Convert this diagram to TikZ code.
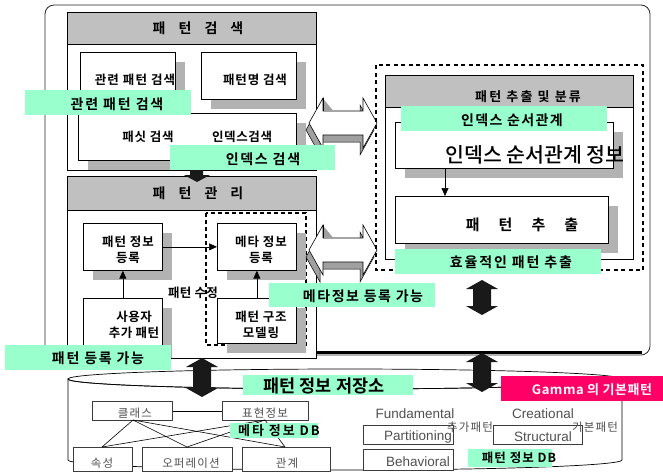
\documentclass[tikz,border=0pt]{standalone}
\usepackage{fontspec}
\setmainfont{Noto Sans CJK KR}[BoldFont={Noto Sans CJK KR Bold}]
\newfontfamily\krmed{Noto Sans CJK KR Medium}
\newfontfamily\lat{Liberation Sans}
\usetikzlibrary{arrows.meta}
\definecolor{mint}{RGB}{153,255,204}
\definecolor{hdr}{RGB}{192,192,192}
\definecolor{shd}{RGB}{178,178,178}
\definecolor{pinkc}{RGB}{255,0,102}
\definecolor{dbtxt}{RGB}{80,80,80}
\definecolor{dbline}{RGB}{60,60,60}
\newcommand\fs[1]{\fontsize{#1}{#1}\selectfont}
\newcommand\ls[1]{\addfontfeature{LetterSpace=#1}}
% shadowed box: name, x1, y1, x2, y2
\newcommand\ShBox[5]{%
  \fill[shd] (#2+10,#3+10) rectangle (#4+10,#5+10);
  \node[box, minimum width=#4-#2, minimum height=#5-#3] (#1) at (#2,#3) {};}
\newcommand\PlainBox[5]{%
  \node[box, minimum width=#4-#2, minimum height=#5-#3] (#1) at (#2,#3) {};}
\newcommand\HdBox[5]{%
  \node[box, fill=hdr, minimum width=#4-#2, minimum height=#5-#3] (#1) at (#2,#3) {};}
\newcommand\GreenBox[5]{%
  \node[gbox, minimum width=#4-#2, minimum height=#5-#3] (#1) at (#2,#3) {};}
% black vertical double arrow: cx, ytop, ybot
\newcommand\VArrow[3]{%
  \fill[black!90] (#1,#2) -- (#1+16,#2+9) -- (#1+9,#2+9) -- (#1+9,#3-9) -- (#1+16,#3-9)
    -- (#1,#3) -- (#1-16,#3-9) -- (#1-9,#3-9) -- (#1-9,#2+9) -- (#1-16,#2+9) -- cycle;}
% hollow 3D horizontal double arrow: x of left tip, y of tips
\newcommand\HArrow[2]{%
  \begin{scope}[shift={(#1,#2)}]
    \filldraw[fill=shd!90!black, draw=black, line width=0.5pt, shift={(-3,7)}]
      (0,0) -- (14,-25) -- (14,-12) -- (54,-12) -- (54,-25) -- (68,0)
      -- (54,25) -- (54,12) -- (14,12) -- (14,25) -- cycle;
    \filldraw[fill=white, draw=black, line width=0.6pt]
      (0,0) -- (14,-25) -- (14,-12) -- (54,-12) -- (54,-25) -- (68,0)
      -- (54,25) -- (54,12) -- (14,12) -- (14,25) -- cycle;
    \fill[shd!90!black] (14.4,-24) -- (24,-12.4) -- (14.4,-12.4) -- cycle;
    \draw[line width=0.6pt] (14,-25) -- (14,-12);
  \end{scope}}
\begin{document}
\begin{tikzpicture}[x=1pt,y=-1pt,
  box/.style={draw=black, fill=white, line width=0.7pt, inner sep=0pt, anchor=north west},
  gbox/.style={fill=mint, inner sep=0pt, anchor=north west},
  dbbox/.style={draw=dbline, fill=white, line width=0.6pt, inner sep=0pt, anchor=north west},
  txt/.style={inner sep=0pt, anchor=center},
  btxt/.style={txt, font=\fs{12.5}\bfseries},
  gtxt/.style={txt, font=\fs{13.5}\bfseries},
  dtxt/.style={txt, text=dbtxt, font=\fs{11.5}\ls{10}},
  ltxt/.style={txt, text=dbtxt, font=\lat\fs{13.5}},
  conn/.style={line width=0.6pt, -{Triangle[length=8pt,width=7pt]}},
  dbconn/.style={line width=0.6pt, draw=black}
]
\useasboundingbox (0,0) rectangle (663,472);
\fill[white] (0,0) rectangle (663,472);

% outer frame
\draw[rounded corners=9pt, line width=0.8pt, draw=black!85] (45,5) rectangle (650,355);
\draw[line width=3pt] (45,352) -- (642,352);

% ===== pattern search =====
\PlainBox{srch}{67}{12}{316}{170}
\HdBox{srchH}{67}{12}{316}{44}
\node[txt, font=\fs{14}\bfseries] (srchT) at (198,28) {패\hspace{13pt}턴\hspace{13pt}검\hspace{13pt}색};
\ShBox{relB}{80}{52}{175}{104}
\node[btxt, font=\fs{12.5}\bfseries\ls{9}] (relT) at (135,80) {관련 패턴 검색};
\ShBox{nameB}{201}{52}{296}{99}
\node[btxt, font=\fs{12.5}\bfseries\ls{7}] (nameT) at (255,80) {패턴명 검색};
\ShBox{facB}{78}{113}{296}{160}
\node[btxt, font=\fs{12.5}\bfseries\ls{7}] (facT) at (148,137) {패싯 검색};
\node[btxt, font=\fs{12.5}\bfseries\ls{5}] (idxT) at (242,137) {인덱스검색};

% ===== pattern management =====
\PlainBox{mng}{67}{176}{316}{358}
\HdBox{mngH}{67}{176}{316}{210}
\node[txt, font=\fs{14}\bfseries] (mngT) at (198,193) {패\hspace{13pt}턴\hspace{13pt}관\hspace{13pt}리};
\draw[line width=2pt, dash pattern=on 4pt off 3pt] (206,213) rectangle (306,345);
\ShBox{pinfo}{83}{223}{162}{270}
\node[btxt, align=center, font=\fs{12.5}\bfseries\ls{8}] (pinfoT) at (128,250) {패턴 정보\\[3pt]등록};
\ShBox{meta}{217}{223}{296}{270}
\node[btxt, align=center, font=\fs{12.5}\bfseries\ls{8}] (metaT) at (261,250) {메타 정보\\[3pt]등록};
\ShBox{user}{83}{298}{162}{348}
\node[btxt, align=center, font=\fs{12.5}\bfseries\ls{4}] (userT) at (134,325) {사용자\\[3pt]추가 패턴};
\ShBox{model}{217}{298}{296}{343}
\node[btxt, align=center, font=\fs{12.5}\bfseries\ls{7}] (modelT) at (261,325) {패턴 구조\\[3pt]모델링};
\node[btxt, font=\fs{12.5}\bfseries\ls{2}] (fixT) at (193,293) {패턴 수정};
\draw[conn] (pinfo.east) -- (meta.west);
\draw[conn] (user.north) -- (pinfo.south);
\draw[conn] (model.north) -- (meta.south);
% down arrow search -> management
\fill[black!90] (190,168) -- (203,168) -- (203,175) -- (210,175) -- (197,182) -- (184,175) -- (190,175) -- cycle;

% ===== hollow arrows =====
\HArrow{309}{123}
\HArrow{309}{250}

% ===== extraction =====
\draw[line width=2.2pt, dash pattern=on 4pt off 3.5pt] (376,65) rectangle (643,270);
\PlainBox{ext}{385}{75}{633}{259}
\HdBox{extH}{385}{75}{633}{107}
\node[txt, font=\fs{13}\bfseries\ls{17}] (extT) at (528,97) {패턴 추출 및 분류};
\ShBox{idxinfo}{395}{122}{613}{168}
\node[txt, font=\krmed\fs{20.5}] (idxinfoT) at (535,155) {인덱스 순서관계 정보};
\ShBox{extract}{395}{196}{608}{243}
\node[txt, font=\fs{15}\bfseries] (extractT) at (522,225) {패\hspace{19pt}턴\hspace{19pt}추\hspace{19pt}출};
\draw[conn] ([xshift=50pt]idxinfo.south west) -- ([xshift=50pt]extract.north west);

% ===== repository cylinder =====
\filldraw[fill=white, draw=black, line width=0.7pt] (68,379) -- (68,460)
  arc[start angle=180, end angle=0, x radius=277, y radius=10] -- (622,379)
  arc[start angle=0, end angle=180, x radius=277, y radius=10] -- cycle;
\draw[line width=0.7pt] (345,379) ellipse [x radius=277, y radius=10];

% meta DB
\node[dbbox, minimum width=80, minimum height=19] (cls) at (92,401) {};
\node[dtxt] (clsT) at (135,413) {클래스};
\node[dbbox, minimum width=86, minimum height=19] (rep) at (222,401) {};
\node[dtxt] (repT) at (265,413) {표현정보};
\node[dbbox, minimum width=59, minimum height=24] (attr) at (73,447) {};
\node[dtxt] (attrT) at (102,463) {속성};
\node[dbbox, minimum width=90, minimum height=24] (oper) at (142,447) {};
\node[dtxt] (operT) at (191,463) {오퍼레이션};
\node[dbbox, minimum width=88, minimum height=24] (rel) at (242,447) {};
\node[dtxt] (relT2) at (287,463) {관계};
\draw[dbconn] (cls.east) -- (rep.west);
\coordinate (clsB) at (133,420);
\coordinate (repB) at (265,420);
\draw[dbconn] (clsB) -- ([xshift=29pt]attr.north west);
\draw[dbconn] (clsB) -- ([xshift=45pt]oper.north west);
\draw[dbconn] (clsB) -- ([xshift=43pt]rel.north west);
\draw[dbconn] (repB) -- ([xshift=29pt]attr.north west);
\draw[dbconn] (repB) -- ([xshift=45pt]oper.north west);
\draw[dbconn] (repB) -- ([xshift=43pt]rel.north west);

% pattern DB
\node[ltxt] (fundT) at (415,414) {Fundamental};
\node[ltxt] (creaT) at (543,414) {Creational};
\node[dbbox, minimum width=90, minimum height=19] (part) at (363,425) {};
\node[ltxt] (partT) at (418,437) {Partitioning};
\node[dbbox, minimum width=89, minimum height=19] (stru) at (493,425) {};
\node[ltxt] (struT) at (543,437) {Structural};
\node[dbbox, minimum width=90, minimum height=21] (beh) at (363,449) {};
\node[ltxt] (behT) at (418,462) {Behavioral};
\node[dtxt] (addT) at (470,427) {추가패턴};
\node[dtxt] (baseT) at (595,427) {기본패턴};

% ===== green labels =====
\GreenBox{g1}{25}{90}{191}{115}
\node[gtxt, font=\fs{14}\bfseries\ls{13}] (g1T) at (117,104) {관련 패턴 검색};
\GreenBox{g2}{170}{145}{335}{170}
\node[gtxt, font=\fs{14}\bfseries\ls{12}] (g2T) at (263,159) {인덱스 검색};
\GreenBox{g3}{401}{106}{607}{131}
\node[gtxt, font=\fs{14}\bfseries\ls{10}] (g3T) at (512,120) {인덱스 순서관계};
\GreenBox{g4}{395}{249}{601}{274}
\node[gtxt, font=\fs{14}\bfseries\ls{13}] (g4T) at (511,262) {효율적인 패턴 추출};
\GreenBox{g5}{269}{283}{435}{307}
\node[gtxt, font=\fs{14}\bfseries\ls{11}] (g5T) at (363,296) {메타정보 등록 가능};
\GreenBox{g6}{5}{345}{171}{370}
\node[gtxt, font=\fs{14}\bfseries\ls{12}] (g6T) at (98,358) {패턴 등록 가능};
\GreenBox{g7}{243}{375}{413}{395}
\node[gtxt, font=\fs{17.5}\bfseries] (g7T) at (324,386) {패턴 정보 저장소};
\GreenBox{g8}{230}{423}{318}{438}
\node[gtxt, font=\fs{13}\bfseries\ls{15}] (g8T) at (279,431) {메타 정보 DB};
\GreenBox{g9}{468}{449}{552}{467}
\node[gtxt, font=\fs{12.5}\bfseries\ls{8}] (g9T) at (519,458) {패턴 정보 DB};
\node[fill=pinkc, inner sep=0pt, anchor=north west, minimum width=162, minimum height=25] (pink) at (501,376) {};
\node[txt, text=white, font=\fs{13}\bfseries\ls{4}] (pinkT) at (592,390) {Gamma 의 기본패턴};

% ===== black double arrows =====
\VArrow{482}{280}{315}
\VArrow{482}{353}{392}
\VArrow{202}{358}{397}
\end{tikzpicture}
\end{document}
